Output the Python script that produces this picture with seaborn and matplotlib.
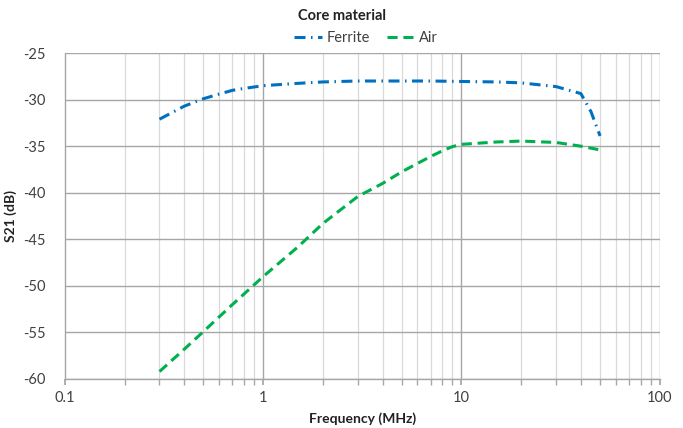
import matplotlib
matplotlib.use("Agg")
import matplotlib.pyplot as plt
import seaborn as sns
import pandas as pd
import numpy as np
from matplotlib.ticker import FixedLocator, NullFormatter, FixedFormatter

ferrite_f = [0.3, 0.4, 0.5, 0.6, 0.7, 0.8, 1, 1.5, 2, 3, 5, 7, 10, 15, 20, 30, 40, 45, 50]
ferrite_db = [-32.1, -30.7, -29.9, -29.4, -29.0, -28.8, -28.5, -28.25, -28.1, -28.0, -28.0,
              -28.0, -28.05, -28.1, -28.2, -28.6, -29.35, -31.3, -33.9]
air_f = [0.3, 0.4, 0.5, 0.7, 1, 1.5, 2, 3, 4, 5, 6, 7, 8, 9, 10, 15, 20, 30, 40, 50]
air_db = [-59.2, -56.8, -54.9, -52.0, -49.0, -45.8, -43.3, -40.4, -39.0, -37.75, -36.85,
          -36.1, -35.5, -35.05, -34.8, -34.55, -34.45, -34.6, -35.0, -35.4]
series_names = ["Ferrite", "Air"]
x_ticks = [0.1, 1, 10, 100]
x_ticklabels = ["0.1", "1", "10", "100"]
y_ticks = [-60, -55, -50, -45, -40, -35, -30, -25]

df = pd.concat([
    pd.DataFrame({"f": ferrite_f, "db": ferrite_db, "Core material": series_names[0]}),
    pd.DataFrame({"f": air_f, "db": air_db, "Core material": series_names[1]}),
])

sns.set_theme(style="white")
plt.rcParams["font.family"] = ["Lato", "DejaVu Sans"]

fig = plt.figure(figsize=(6.83, 4.28), dpi=100)
ax = fig.add_axes([0.095, 0.1145, 0.871, 0.7615])

ax.set_xscale("log")
ax.set_xlim(0.1, 100)
ax.set_ylim(-60, -25)

# grid
minor = [m * d for d in (0.1, 1, 10) for m in range(2, 10)]
for v in minor:
    ax.axvline(v, color="#d9d9d9", lw=0.9, zorder=0)
for v in [1, 10, 100]:
    ax.axvline(v, color="#a6a6a6", lw=1.0, zorder=0)
for v in y_ticks:
    ax.axhline(v, color="#a6a6a6", lw=1.0, zorder=0)

sns.lineplot(data=df, x="f", y="db", hue="Core material", style="Core material",
             palette={"Ferrite": "#0070C0", "Air": "#00B050"},
             dashes={"Ferrite": (3.6, 1.8, 0.5, 1.8), "Air": (3.3, 1.9)},
             linewidth=2.2, sort=False, ax=ax, legend=True, estimator=None)

for s in ["top", "right"]:
    ax.spines[s].set_visible(False)
for s in ["left", "bottom"]:
    ax.spines[s].set_color("#a6a6a6")
    ax.spines[s].set_linewidth(1.0)

ax.xaxis.set_major_locator(FixedLocator(x_ticks))
ax.xaxis.set_major_formatter(FixedFormatter(x_ticklabels))
ax.xaxis.set_minor_locator(FixedLocator(minor))
ax.xaxis.set_minor_formatter(NullFormatter())
ax.tick_params(axis="x", which="both", direction="out", length=4, color="#a6a6a6",
               bottom=True, labelsize=10.5, labelcolor="#404040", pad=5)
ax.set_yticks(y_ticks)
ax.set_yticklabels([str(v) for v in y_ticks])
ax.tick_params(axis="y", left=False, labelsize=10.5, labelcolor="#404040", pad=8)

ax.set_xlabel("Frequency (MHz)", fontsize=10, fontweight="bold", color="#222222", labelpad=5)
ax.set_ylabel("S21 (dB)", fontsize=10, fontweight="bold", color="#222222", labelpad=4)

handles, labels = ax.get_legend_handles_labels()
ax.get_legend().remove()
fig.text(0.5, 0.963, "Core material", ha="center", va="center", fontsize=10.5,
         fontweight="bold", color="#222222")
fig.legend(handles, labels, loc="center", bbox_to_anchor=(0.536, 0.912), ncol=2,
           frameon=False, fontsize=10.5, handlelength=1.9, handletextpad=0.3,
           columnspacing=1.2, labelcolor="#404040")

fig.savefig("out.png", dpi=100)
